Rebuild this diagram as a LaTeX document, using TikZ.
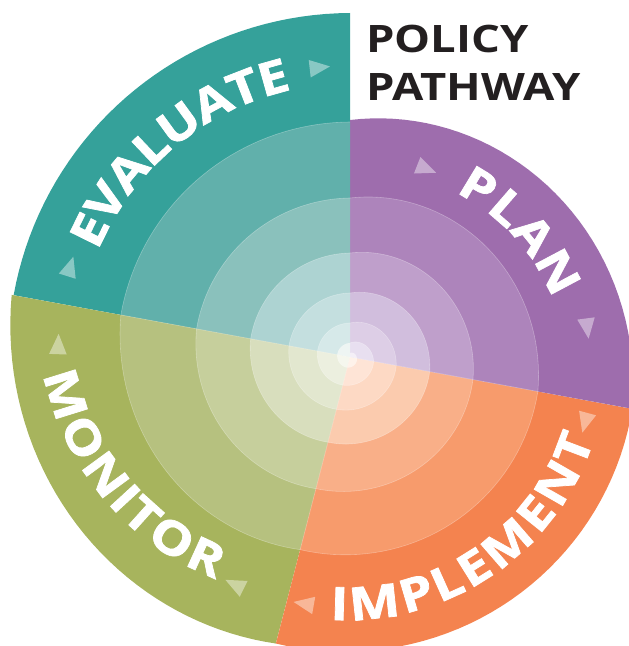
\documentclass[tikz,border=0pt]{standalone}
\usepackage{fontspec}
\setmainfont{Open Sans}
\newfontfamily\titlefont{Open Sans}[FakeStretch=1.2]
\newfontfamily\labfont{Open Sans}[FakeStretch=1.17, FakeBold=1.6]
\usetikzlibrary{decorations.text}

\definecolor{ink}{HTML}{231F20}
\definecolor{tl0}{HTML}{35A19A}\definecolor{tl1}{HTML}{61B0AB}\definecolor{tl2}{HTML}{8AC1BC}
\definecolor{tl3}{HTML}{ADD3D2}\definecolor{tl4}{HTML}{C4DFDF}\definecolor{tl5}{HTML}{D6E9E9}\definecolor{tl6}{HTML}{EEF5F3}
\definecolor{pu0}{HTML}{9E6DAD}\definecolor{pu1}{HTML}{AD84BB}\definecolor{pu2}{HTML}{BF9FCB}
\definecolor{pu3}{HTML}{D1BEDD}\definecolor{pu4}{HTML}{DDCEE6}\definecolor{pu5}{HTML}{E8DFF0}\definecolor{pu6}{HTML}{F4EFF7}
\definecolor{or0}{HTML}{F4834F}\definecolor{or1}{HTML}{F79B6C}\definecolor{or2}{HTML}{F9AF88}
\definecolor{or3}{HTML}{FBCBAE}\definecolor{or4}{HTML}{FDD9C4}\definecolor{or5}{HTML}{FEE4D6}\definecolor{or6}{HTML}{FEF2EA}
\definecolor{ol0}{HTML}{A7B45D}\definecolor{ol1}{HTML}{B6C17F}\definecolor{ol2}{HTML}{C6CF9C}
\definecolor{ol3}{HTML}{D8DEBD}\definecolor{ol4}{HTML}{E2E7CF}\definecolor{ol5}{HTML}{ECEFDF}\definecolor{ol6}{HTML}{F5F7EE}

% spiral pieces around the apex (350,289): angle #2 -> #3, radius #4 -> #5
\newcommand\spsector[5]{\fill[fill=#1] (ap) -- plot[domain=0:1,samples=40,variable=\t]
  ({350+(#4+(#5-#4)*\t)*cos(#2+(#3-#2)*\t)},{289+(#4+(#5-#4)*\t)*sin(#2+(#3-#2)*\t)}) -- cycle;}
\newcommand\spline[4]{\draw[bline] plot[domain=0:1,samples=40,variable=\t]
  ({350+(#3+(#4-#3)*\t)*cos(#1+(#2-#1)*\t)},{289+(#3+(#4-#3)*\t)*sin(#1+(#2-#1)*\t)});}
\newcommand\sptri[2]{\fill[trimark, shift={(ap)}, shift={(#1:#2)}]
  ({#1-90}:13) -- ({#1+40}:11.5) -- ({#1-220}:11.5) -- cycle;}
\newcommand\splab[5]{\path[decorate, decoration={text along path,
  text={|\labfont\bfseries\fontsize{46}{46}\selectfont|#1},
  text align={fit to path}, text color=white, raise=-16.5pt}]
  plot[domain=0:1,samples=60,variable=\t]
  ({350+(#4+(#5-#4)*\t)*cos(#2+(#3-#2)*\t)},{289+(#4+(#5-#4)*\t)*sin(#2+(#3-#2)*\t)});}

\begin{document}
\begin{tikzpicture}[x=1pt,y=1pt,
  bline/.style={white, opacity=0.3, line width=0.6pt},
  trimark/.style={white, fill opacity=0.42},
  title/.style={font=\titlefont\bfseries\fontsize{37.8}{40}\selectfont, text=ink, inner sep=0pt, anchor=base west}]
\useasboundingbox (0,0) rectangle (629,646);
\clip (0,0) rectangle (629,646);
\coordinate (ap) at (350,289);

% bands of the spiral, outer to inner
\foreach \k/\T/\Lt/\Lo/\B/\R/\P in {0/344/342/344/296/287/237, 1/235/233/233/199/191/159,
  2/159/156/156/136/125/104, 3/104/101/101/88/81/64, 4/64/62/62/54/47/34,
  5/34/33/33/29/24/14, 6/14/13/13/11/7/4}{
  \spsector{tl\k}{90}{169.6}{\T}{\Lt}
  \spsector{ol\k}{169.6}{255.5}{\Lo}{\B}
  \spsector{or\k}{255.5}{349.6}{\B}{\R}
  \spsector{pu\k}{349.6}{450}{\R}{\P}
}
% faint boundary lines
\foreach \T/\L/\B/\R/\P in {235/233/199/191/159, 159/156/136/125/104, 104/101/88/81/64,
  64/62/54/47/34, 34/33/29/24/14}{
  \spline{90}{169.6}{\T}{\L}
  \spline{169.6}{255.5}{\L}{\B}
  \spline{255.5}{349.6}{\B}{\R}
  \spline{349.6}{450}{\R}{\P}
}
\draw[bline, shift={(ap)}] (0,0) -- (169.6:233);
\draw[bline, shift={(ap)}] (0,0) -- (255.5:199);
\draw[bline, shift={(ap)}] (0,0) -- (349.6:191);

% direction marks
\sptri{96.5}{291}
\sptri{162.6}{294}
\sptri{68.6}{203}
\sptri{7.5}{239}
\sptri{345}{244}
\sptri{260}{251}
\sptri{243.7}{255}
\sptri{178}{292}

% curved labels
\splab{EVALUATE}{157}{102.4}{290}{290}
\splab{PLAN}{57.5}{16.8}{212}{227}
\splab{IMPLEMENT}{265.5}{341.5}{247}{241}
\splab{MONITOR}{182.5}{234.5}{291}{246}

% title
\node[title] (t1) at (366,593) {POLICY};
\node[title] (t2) at (366,545) {PATHWAY};
\end{tikzpicture}
\end{document}
